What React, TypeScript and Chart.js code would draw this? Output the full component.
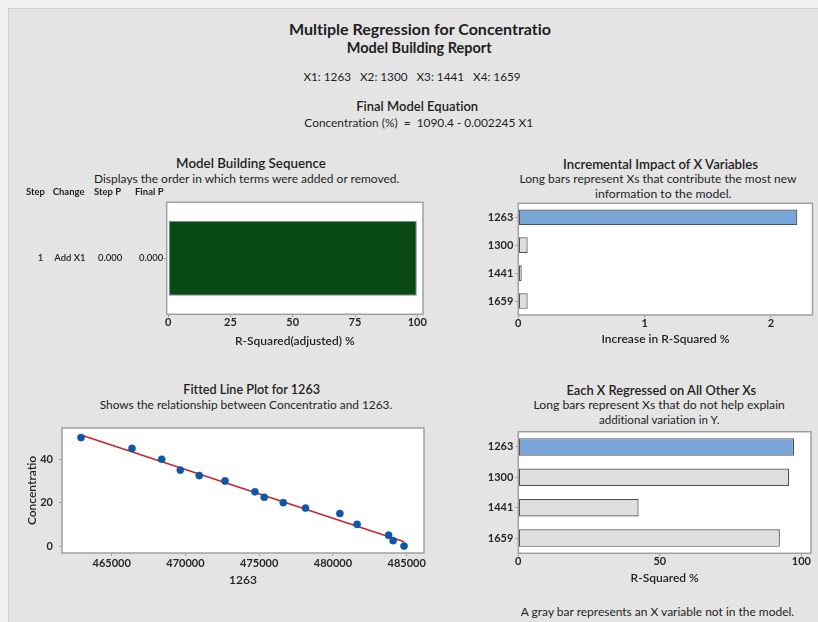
import React, { useEffect, useRef } from 'react';
import { Chart, registerables } from 'chart.js';

Chart.register(...registerables);

// ---- Model building sequence ----
const tableHeaders = ['Step', 'Change', 'Step P', 'Final P'];
const stepNumbers = [1];
const stepChanges = ['Add X1'];
const stepPValues = ['0.000'];
const finalPValues = ['0.000'];
const rSqAdjusted = [99.8];
const rSqAdjTicks = [0, 25, 50, 75, 100];

// ---- Incremental impact of X variables ----
const xVariables = ['1263', '1300', '1441', '1659'];
const inModel = [true, false, false, false];
const rSqIncrease = [2.21, 0.074, 0.027, 0.074];
const increaseTicks = [0, 1, 2];

// ---- Each X regressed on all other Xs ----
const rSqOnOthers = [97.4, 95.7, 42.5, 92.4];
const rSqTicks = [0, 50, 100];

// ---- Fitted line plot for 1263 ----
const x1263 = [462920, 466375, 468390, 469650, 470935, 472680, 474710, 475340, 476630, 478140, 480470, 481640, 483770, 484080, 484820];
const concentration = [50, 45, 40, 35, 32.5, 30, 25, 22.5, 20, 17.5, 15, 10, 5, 2.5, 0];
const fitIntercept = 1090.4;
const fitSlope = -0.002245;
const x1263Ticks = [465000, 470000, 475000, 480000, 485000];
const concTicks = [0, 20, 40];

const FONT = "Lato, 'Open Sans', sans-serif";
const TEXT = '#1e1e1e';
const TICK_TEXT = '#262626';
const FRAME = '#a0a0a0';
const BLUE_BAR = '#7ba6da';
const GRAY_BAR = '#dedede';
const BAR_EDGE = '#505050';

const tickFont = { family: FONT, size: 11, weight: 700 as const, lineHeight: 1 };
const titleFont = { family: FONT, size: 12, weight: 600 as const, lineHeight: 1.2 };

// Fixes an axis to a set thickness so the plot area lands where it should.
function fixAxis(size: number) {
  return (scale: any) => {
    if (scale.isHorizontal()) scale.height = size;
    else scale.width = size;
    scale.paddingLeft = 0;
    scale.paddingRight = 0;
    scale.paddingTop = 0;
    scale.paddingBottom = 0;
  };
}

function useTicks(values: number[]) {
  return (scale: any) => {
    scale.ticks = values.map((v) => ({ value: v }));
  };
}

// White plot background and thin gray frame around the plot area.
const framePlugin = {
  id: 'plotFrame',
  beforeDraw(chart: any) {
    const { ctx, chartArea: a } = chart;
    ctx.save();
    ctx.fillStyle = '#ffffff';
    ctx.fillRect(a.left, a.top, a.right - a.left, a.bottom - a.top);
    ctx.restore();
  },
  afterDraw(chart: any) {
    const { ctx, chartArea: a } = chart;
    ctx.save();
    ctx.strokeStyle = FRAME;
    ctx.lineWidth = 1.5;
    ctx.strokeRect(a.left, a.top, a.right - a.left, a.bottom - a.top);
    ctx.restore();
  },
};

// Step table drawn to the left of the sequence bar, one row per step.
const stepTablePlugin = {
  id: 'stepTable',
  afterDraw(chart: any) {
    const { ctx, chartArea, scales } = chart;
    const headerX = [6, 32.7, 74, 115];
    const headY = chartArea.top - 10.3;
    ctx.save();
    ctx.fillStyle = TEXT;
    ctx.textBaseline = 'middle';
    ctx.font = `700 9.5px ${FONT}`;
    ctx.textAlign = 'left';
    tableHeaders.forEach((h, i) => ctx.fillText(h, headerX[i], headY));
    ctx.font = `600 9.5px ${FONT}`;
    stepNumbers.forEach((n, i) => {
      const y = scales.y.getPixelForValue(i);
      ctx.textAlign = 'right';
      ctx.fillText(String(n), 23.3, y);
      ctx.textAlign = 'left';
      ctx.fillText(stepChanges[i], 34.3, y);
      ctx.textAlign = 'right';
      ctx.fillText(stepPValues[i], 102.3, y);
      ctx.fillText(finalPValues[i], 143.3, y);
    });
    ctx.restore();
  },
};

const baseOptions = (padding: any) => ({
  animation: false as const,
  responsive: false,
  events: [] as any[],
  layout: { autoPadding: false, padding },
  plugins: { legend: { display: false }, tooltip: { enabled: false } },
});

const axisGrid = { drawOnChartArea: false, drawTicks: true, tickLength: 3, color: FRAME, offset: false };

function sequenceConfig(): any {
  return {
    type: 'bar',
    data: {
      labels: stepChanges,
      datasets: [
        {
          data: rSqAdjusted,
          backgroundColor: '#0a4a15',
          borderColor: '#8a8a8a',
          borderWidth: 1,
          borderSkipped: false,
          barPercentage: 0.67,
          categoryPercentage: 1,
        },
      ],
    },
    options: {
      ...baseOptions({ top: 17.3, right: 7, left: 0, bottom: 0 }),
      indexAxis: 'y',
      scales: {
        x: {
          type: 'linear',
          min: -0.6,
          max: 102.3,
          afterBuildTicks: useTicks(rSqAdjTicks),
          afterFit: fixAxis(35.7),
          grid: axisGrid,
          border: { display: false },
          ticks: { font: tickFont, color: TICK_TEXT, padding: 0, maxRotation: 0, autoSkip: false },
          title: { display: true, text: 'R-Squared(adjusted) %', font: titleFont, color: TEXT, padding: { top: 0, bottom: 2.1 } },
        },
        y: {
          afterFit: fixAxis(146.7),
          grid: axisGrid,
          border: { display: false },
          ticks: { callback: () => '' },
        },
      },
    },
    plugins: [framePlugin, stepTablePlugin],
  };
}

function horizontalBarConfig(values: number[], ticks: number[], max: number, axisTitle: string, pad: any, xHeight: number, titlePad: number, barPct: number): any {
  return {
    type: 'bar',
    data: {
      labels: xVariables,
      datasets: [
        {
          data: values,
          backgroundColor: inModel.map((m) => (m ? BLUE_BAR : GRAY_BAR)),
          borderColor: BAR_EDGE,
          borderWidth: 1.2,
          borderSkipped: false,
          barPercentage: barPct,
          categoryPercentage: 1,
        },
      ],
    },
    options: {
      ...baseOptions(pad),
      indexAxis: 'y',
      scales: {
        x: {
          type: 'linear',
          min: 0,
          max,
          afterBuildTicks: useTicks(ticks),
          afterFit: fixAxis(xHeight),
          grid: axisGrid,
          border: { display: false },
          ticks: { font: tickFont, color: TICK_TEXT, padding: 0, maxRotation: 0, autoSkip: false },
          title: { display: true, text: axisTitle, font: titleFont, color: TEXT, padding: { top: 0, bottom: titlePad } },
        },
        y: {
          afterFit: fixAxis(38.3),
          grid: axisGrid,
          border: { display: false },
          ticks: { font: tickFont, color: TICK_TEXT, padding: 2 },
        },
      },
    },
    plugins: [framePlugin],
  };
}

function fittedConfig(): any {
  const xMin = Math.min(...x1263);
  const xMax = Math.max(...x1263);
  return {
    type: 'scatter',
    data: {
      datasets: [
        {
          data: x1263.map((x, i) => ({ x, y: concentration[i] })),
          pointRadius: 3.6,
          pointBackgroundColor: '#0e56a8',
          pointBorderColor: '#0e56a8',
          pointBorderWidth: 0.5,
          showLine: false,
        },
        {
          data: [
            { x: xMin, y: fitIntercept + fitSlope * xMin },
            { x: xMax, y: fitIntercept + fitSlope * xMax },
          ],
          showLine: true,
          pointRadius: 0,
          borderColor: '#c1272d',
          borderWidth: 1.5,
        },
      ],
    },
    options: {
      ...baseOptions({ top: 8, right: 8, left: 0, bottom: 0 }),
      scales: {
        x: {
          type: 'linear',
          min: 461630,
          max: 486173,
          afterBuildTicks: useTicks(x1263Ticks),
          afterFit: fixAxis(37),
          grid: axisGrid,
          border: { display: false },
          ticks: { font: tickFont, color: TICK_TEXT, padding: 1.5, maxRotation: 0, autoSkip: false, callback: (v: number) => String(v) },
          title: { display: true, text: '1263', font: titleFont, color: TEXT, padding: { top: 0, bottom: 3.1 } },
        },
        y: {
          type: 'linear',
          min: -3.2,
          max: 54.4,
          afterBuildTicks: useTicks(concTicks),
          afterFit: fixAxis(42),
          grid: axisGrid,
          border: { display: false },
          ticks: { font: tickFont, color: TICK_TEXT, padding: 6, callback: (v: number) => String(v) },
          title: { display: true, text: 'Concentratio', font: titleFont, color: TEXT, padding: { top: 4.5, bottom: 0 } },
        },
      },
    },
    plugins: [framePlugin],
  };
}

function ChartCanvas({ make, left, top, width, height }: { make: () => any; left: number; top: number; width: number; height: number }) {
  const ref = useRef<HTMLCanvasElement>(null);
  useEffect(() => {
    const chart = new Chart(ref.current as HTMLCanvasElement, make());
    return () => chart.destroy();
  }, []);
  return <canvas ref={ref} width={width} height={height} style={{ position: 'absolute', left, top, width, height }} />;
}

// Report captions: centre x, cap-centre y, target width, weight.
type Caption = { text: string; cx: number; cy: number; w: number; weight: number };
const captions: Caption[] = [
  { text: 'Multiple Regression for Concentratio', cx: 420, cy: 29.3, w: 263.3, weight: 700 },
  { text: 'Model Building Report', cx: 419.2, cy: 48, w: 145, weight: 700 },
  { text: 'X1: 1263   X2: 1300   X3: 1441   X4: 1659', cx: 412, cy: 76.7, w: 217.4, weight: 400 },
  { text: 'Final Model Equation', cx: 417.2, cy: 106.5, w: 122.3, weight: 600 },
  { text: 'Concentration (%)  =  1090.4 - 0.002245 X1', cx: 418.7, cy: 122.5, w: 229.3, weight: 400 },
  { text: 'Model Building Sequence', cx: 251, cy: 163.8, w: 150, weight: 600 },
  { text: 'Displays the order in which terms were added or removed.', cx: 246.7, cy: 179.2, w: 306.7, weight: 400 },
  { text: 'Incremental Impact of X Variables', cx: 660.5, cy: 164.5, w: 195.7, weight: 600 },
  { text: 'Long bars represent Xs that contribute the most new', cx: 658, cy: 178.8, w: 277.3, weight: 400 },
  { text: 'information to the model.', cx: 663.3, cy: 194.2, w: 136.7, weight: 400 },
  { text: 'Fitted Line Plot for 1263', cx: 251.7, cy: 389.5, w: 136.7, weight: 600 },
  { text: 'Shows the relationship between Concentratio and 1263.', cx: 246, cy: 404.7, w: 293.3, weight: 400 },
  { text: 'Each X Regressed on All Other Xs', cx: 661.3, cy: 389.7, w: 190.7, weight: 600 },
  { text: 'Long bars represent Xs that do not help explain', cx: 659.2, cy: 404.5, w: 251.7, weight: 400 },
  { text: 'additional variation in Y.', cx: 659.2, cy: 419.5, w: 121.7, weight: 400 },
  { text: 'A gray bar represents an X variable not in the model.', cx: 657.5, cy: 612.2, w: 275, weight: 400 },
];

let measureCtx: CanvasRenderingContext2D | null = null;
function fitFontSize(text: string, weight: number, width: number) {
  if (!measureCtx) measureCtx = document.createElement('canvas').getContext('2d');
  if (!measureCtx) return 12;
  measureCtx.font = `${weight} 40px ${FONT}`;
  const w = measureCtx.measureText(text).width;
  return w > 0 ? (40 * width) / w : 12;
}

export default function App() {
  return (
    <div style={{ position: 'absolute', left: 0, top: 0, width: 818, height: 622, overflow: 'hidden', background: '#f1f1f1', fontFamily: FONT }}>
      <div style={{ position: 'absolute', left: 8, top: 8, width: 830, height: 640, background: '#e4e4e4', borderLeft: '1px solid #d0d0d0', borderTop: '1px solid #d0d0d0' }} />
      {captions.map((c, i) => (
        <div
          key={i}
          style={{
            position: 'absolute',
            left: c.cx,
            top: c.cy,
            transform: 'translate(-50%, -50%)',
            whiteSpace: 'pre',
            lineHeight: 1,
            fontSize: fitFontSize(c.text, c.weight, c.w),
            fontWeight: c.weight,
            fontVariantLigatures: 'none',
            color: TEXT,
          }}
        >
          {c.text}
        </div>
      ))}
      <ChartCanvas make={sequenceConfig} left={20} top={185} width={410} height={165} />
      <ChartCanvas
        make={() => horizontalBarConfig(rSqIncrease, increaseTicks, 2.33, 'Increase in R-Squared %', { top: 8.3, right: 2.5, left: 0, bottom: 0 }, 35, 3.5, 0.56)}
        left={480}
        top={195}
        width={335}
        height={155}
      />
      <ChartCanvas make={fittedConfig} left={20} top={420} width={412} height={170} />
      <ChartCanvas
        make={() => horizontalBarConfig(rSqOnOthers, rSqTicks, 103.4, 'R-Squared %', { top: 6.7, right: 4, left: 0, bottom: 0 }, 36.7, 5.1, 0.575)}
        left={480}
        top={425}
        width={335}
        height={165}
      />
    </div>
  );
}
